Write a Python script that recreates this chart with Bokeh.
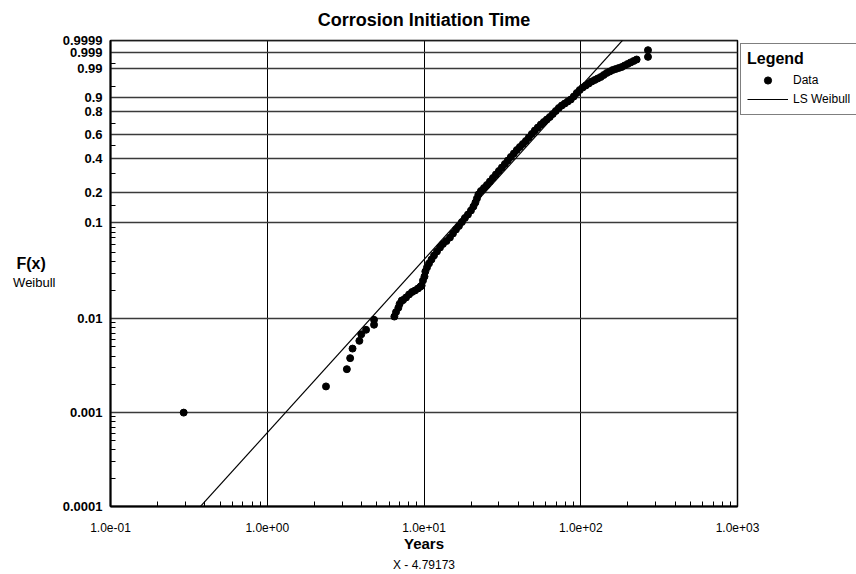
import numpy as np
from bokeh.plotting import figure
from bokeh.models import (Range1d, FixedTicker, Legend, LegendItem, Title, AllLabels,
                          LinearAxis)
from bokeh.embed import file_html
from bokeh.resources import INLINE

# ---- data: failure time (years) and plotted F(x) ----
years = [0.293, 2.37, 3.22, 3.38, 3.50, 3.87, 3.98, 4.27, 4.80, 4.80,
         6.47, 6.63, 6.86, 6.99, 7.21,
         7.35, 7.68, 8.03, 8.39, 8.76, 9.16, 9.50,
         9.66, 9.85, 10.07, 10.2, 10.45, 10.76, 11.16, 11.58, 12.10, 12.65,
         13.21, 13.91, 14.64, 15.30, 15.99, 16.71, 17.46, 18.24, 19.07, 19.93,
         20.67, 21.28, 21.76, 22.24, 23.07, 24.12, 25.20, 26.33, 27.52, 28.75,
         30.05, 31.40, 32.81, 34.28, 35.82, 37.43, 39.12, 40.88, 42.72, 44.64,
         46.65, 48.74, 50.93, 53.22, 55.62, 58.12, 60.73, 63.46, 66.33, 69.31,
         72.43, 75.69, 79.1, 82.66, 86.37, 90.26, 94.30, 98.5, 102.9, 107.6,
         112.5, 117.5, 122.8, 128.3, 134.1, 140.1, 146.4, 153.0, 159.9, 167.1,
         174.6, 182.4, 190.7, 199.3, 208.2, 217.6, 227.3,
         268.5, 268.5]
cdf = [0.0010, 0.0019, 0.0029, 0.0038, 0.0048, 0.0058, 0.0068, 0.0076, 0.0086, 0.0097,
       0.0105, 0.0117, 0.0130, 0.0143, 0.0155,
       0.0157, 0.0167, 0.0180, 0.0191, 0.0198, 0.0208, 0.0218,
       0.0223, 0.0252, 0.0278, 0.0314, 0.0346, 0.0381, 0.0419, 0.0461, 0.0508, 0.0558,
       0.0607, 0.0651, 0.0708, 0.0777, 0.0854, 0.0927, 0.1017, 0.1117, 0.1210, 0.1326,
       0.1452, 0.1590, 0.1740, 0.1901, 0.2052, 0.2189, 0.2336, 0.2516, 0.2710, 0.2914,
       0.3128, 0.3355, 0.3594, 0.3844, 0.4107, 0.4380, 0.4662, 0.4912, 0.5168, 0.5429,
       0.5739, 0.6053, 0.6369, 0.6638, 0.6907, 0.7128, 0.7346, 0.7560, 0.7809, 0.8049,
       0.8278, 0.8459, 0.8597, 0.8729, 0.8854, 0.9029, 0.9212, 0.9351, 0.9454, 0.9528,
       0.9596, 0.9656, 0.9697, 0.9734, 0.9768, 0.9808, 0.9843, 0.9865, 0.9885, 0.9897,
       0.9908, 0.9918, 0.9932, 0.9944, 0.9954, 0.9962, 0.9969,
       0.9979, 0.9993]

# least-squares Weibull fit
weibull_shape = 1.844
weibull_scale = 55.3
fit_years = [0.1, 1000.0]

# ---- ticks ----
f_major = [0.0001, 0.001, 0.01, 0.1, 0.2, 0.4, 0.6, 0.8, 0.9, 0.99, 0.999, 0.9999]
f_major_labels = ["0.0001", "0.001", "0.01", "0.1", "0.2", "0.4", "0.6", "0.8",
                  "0.9", "0.99", "0.999", "0.9999"]
f_minor = [0.0002, 0.0003, 0.0004, 0.0005, 0.0006, 0.0007, 0.0008, 0.0009,
           0.002, 0.003, 0.004, 0.005, 0.006, 0.007, 0.008, 0.009,
           0.02, 0.03, 0.04, 0.05, 0.06, 0.07, 0.08, 0.09,
           0.15, 0.3, 0.5, 0.7, 0.95, 0.995]
x_major = [0.1, 1.0, 10.0, 100.0, 1000.0]
x_major_labels = ["1.0e-01", "1.0e+00", "1.0e+01", "1.0e+02", "1.0e+03"]
x_minor = [0.2, 0.3, 0.4, 0.5, 0.6, 0.7, 0.8, 0.9,
           2, 3, 4, 5, 6, 7, 8, 9,
           20, 30, 40, 50, 60, 70, 80, 90,
           200, 300, 400, 500, 600, 700, 800, 900]

FONT = "Liberation Sans"


def wb(F):
    """Weibull probability-paper transform ln(-ln(1-F))."""
    return np.log(-np.log(1.0 - np.asarray(F, dtype=float)))


y_lo = float(wb(f_major[0]))
y_hi = float(wb(f_major[-1]))

p = figure(frame_width=627, frame_height=466, x_axis_type="log",
           x_range=Range1d(0.1 * (1 - 1e-9), 1000.0 * (1 + 1e-9)),
           y_range=Range1d(y_lo - 1e-9, y_hi + 1e-9),
           output_backend="svg", toolbar_location=None,
           min_border_left=110, min_border_right=119,
           min_border_top=40, min_border_bottom=68)

p.background_fill_color = "white"
p.border_fill_color = "white"
p.outline_line_color = "black"
p.outline_line_width = 1.5

# title
p.title.text = "Corrosion Initiation Time"
p.title.align = "center"
p.title.vertical_align = "top"
p.title.text_font = FONT
p.title.text_font_size = "18px"
p.title.text_font_style = "bold"
p.title.text_color = "black"
p.title.standoff = 17

# grids
p.xgrid.ticker = FixedTicker(ticks=x_major)
p.xgrid.grid_line_color = "black"
p.xgrid.grid_line_width = 1
p.ygrid.ticker = FixedTicker(ticks=[float(v) for v in wb(f_major)])
p.ygrid.grid_line_color = "#3a3a3a"
p.ygrid.grid_line_width = 1.3

# x axis
xa = p.xaxis[0]
xa.ticker = FixedTicker(ticks=x_major, minor_ticks=x_minor)
xa.major_label_overrides = {float(t): s for t, s in zip(x_major, x_major_labels)}
xa.major_label_policy = AllLabels()
xa.major_tick_in = 0
xa.major_tick_out = 0
xa.minor_tick_in = 5
xa.minor_tick_out = 0
xa.minor_tick_line_color = "black"
xa.axis_line_width = 2
xa.major_label_standoff = 16
xa.major_label_text_font = FONT
xa.major_label_text_font_size = "12px"
xa.major_label_text_color = "black"
xa.axis_label = "Years"
xa.axis_label_text_font = FONT
xa.axis_label_text_font_size = "15px"
xa.axis_label_text_font_style = "bold"
xa.axis_label_text_color = "black"
xa.axis_label_standoff = 0

# y axis
ya = p.yaxis[0]
ya.ticker = FixedTicker(ticks=[float(v) for v in wb(f_major)],
                        minor_ticks=[float(v) for v in wb(f_minor)])
ya.major_label_overrides = {float(t): s for t, s in zip(wb(f_major), f_major_labels)}
ya.major_label_policy = AllLabels()
ya.major_tick_in = 0
ya.major_tick_out = 0
ya.minor_tick_in = 5
ya.minor_tick_out = 0
ya.minor_tick_line_color = "black"
ya.axis_line_width = 2
ya.major_label_standoff = 8
ya.major_label_text_font = FONT
ya.major_label_text_font_size = "13px"
ya.major_label_text_font_style = "bold"
ya.major_label_text_color = "black"
# first caption line (an empty second line lifts it above the centre)
ya.axis_label = "F(x)\n"
ya.axis_label_orientation = "horizontal"
ya.axis_label_standoff = 14
ya.axis_label_text_font = FONT
ya.axis_label_text_font_size = "16px"
ya.axis_label_text_font_style = "bold"
ya.axis_label_text_color = "black"

# second caption line under F(x) (empty first line puts it below the centre)
cap_axis = LinearAxis(ticker=FixedTicker(ticks=[]), axis_line_color=None,
                      major_tick_in=0, major_tick_out=0, minor_tick_in=0, minor_tick_out=0,
                      axis_label="\nWeibull", axis_label_orientation="horizontal",
                      axis_label_standoff=-42, axis_label_text_font=FONT,
                      axis_label_text_font_size="13px", axis_label_text_font_style="normal",
                      axis_label_text_color="black")
p.add_layout(cap_axis, "left")

# fitted line and data
fit_w = weibull_shape * (np.log(np.asarray(fit_years)) - np.log(weibull_scale))
ln = p.line(fit_years, fit_w, line_color="black", line_width=1.2)
pts = p.scatter(years, wb(cdf), size=7, fill_color="black", line_color="black")

# subtitle below the x axis label
p.add_layout(Title(text="X - 4.79173", align="center", text_font=FONT,
                   text_font_size="12px", text_font_style="normal",
                   text_color="black", standoff=2), "below")

# legend, right of the plot frame
legend = Legend(items=[LegendItem(label="Data", renderers=[pts]),
                       LegendItem(label="LS Weibull", renderers=[ln])],
                title="Legend", location="top_left",
                title_text_font=FONT, title_text_font_size="16px",
                title_text_font_style="bold", title_text_color="black",
                title_standoff=3,
                label_text_font=FONT, label_text_font_size="12px",
                label_text_color="black",
                glyph_width=41, glyph_height=18, label_height=18,
                label_standoff=5, spacing=1, padding=6, margin=3,
                border_line_color="black", border_line_width=1,
                background_fill_color="white")
p.add_layout(legend, "right")

open("out.html", "w").write(file_html(p, INLINE))
